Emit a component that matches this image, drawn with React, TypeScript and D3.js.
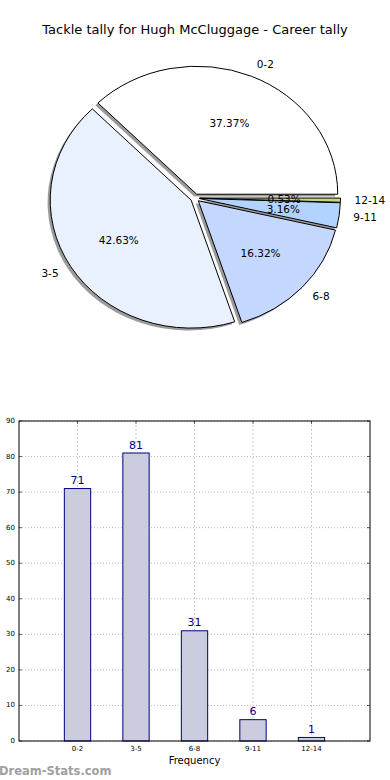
import React from "react";
import * as d3 from "d3";

const categories = ["0-2", "3-5", "6-8", "9-11", "12-14"];
const counts = [71, 81, 31, 6, 1];
const pieColors = ["#ffffff", "#eaf1fe", "#c3d7ff", "#b3d3ff", "#c2d882"];
const yTicks = [0, 10, 20, 30, 40, 50, 60, 70, 80, 90];
const title = "Tackle tally for Hugh McCluggage - Career tally";

const W = 390;
const H = 780;
const FONT = "'DejaVu Sans', sans-serif";

export default function App() {
  // ---------- pie ----------
  const cx = 195, cy = 198, rx = 141, ry = 128;
  const explode = 0.032;
  const total = d3.sum(counts);
  const pie = d3
    .pie<number>()
    .sort(null)
    .startAngle(Math.PI / 2)
    .endAngle(Math.PI / 2 - 2 * Math.PI);
  const arcs = pie(counts);
  const arcGen = d3.arc<d3.PieArcDatum<number>>().innerRadius(0).outerRadius(1);

  const pieEls = arcs.map((a, i) => {
    const m = (a.startAngle + a.endAngle) / 2;
    const ux = Math.sin(m);
    const uy = -Math.cos(m);
    const ox = cx + explode * rx * ux;
    const oy = cy + explode * ry * uy;
    return { a, i, ux, uy, ox, oy };
  });

  // ---------- bars ----------
  const bx0 = 19, bx1 = 370, by0 = 421, by1 = 741;
  const x = d3.scaleLinear().domain([-1, 5]).range([bx0, bx1]);
  const y = d3.scaleLinear().domain([0, 90]).range([by1, by0]);
  const bw = x(0.45) - x(0);

  return (
    <svg
      width={W}
      height={H}
      style={{ position: "absolute", left: 0, top: 0, background: "#fff" }}
      fontFamily={FONT}
    >
      <rect x={0} y={0} width={W} height={H} fill="#fff" />
      <text x={195} y={34} textAnchor="middle" fontSize={13} fill="#000">
        {title}
      </text>

      {/* shadows */}
      {pieEls.map(({ a, i, ox, oy }) => (
        <g key={"s" + i} transform={`translate(${ox - 2.6},${oy + 2.4}) scale(${rx},${ry})`}>
          <path d={arcGen(a) || ""} fill="#8a8a8a" opacity={0.85} />
        </g>
      ))}
      {/* wedges */}
      {pieEls.map(({ a, i, ox, oy }) => (
        <g key={"w" + i} transform={`translate(${ox},${oy}) scale(${rx},${ry})`}>
          <path
            d={arcGen(a) || ""}
            fill={pieColors[i]}
            stroke="#000"
            strokeWidth={1}
            vectorEffect="non-scaling-stroke"
            strokeLinejoin="round"
          />
        </g>
      ))}
      {/* labels */}
      {pieEls.map(({ a, i, ux, uy, ox, oy }) => {
        const lx = ox + 1.1 * rx * ux;
        const ly = oy + 1.1 * ry * uy;
        const px = ox + 0.6 * rx * ux;
        const py = oy + 0.6 * ry * uy;
        return (
          <g key={"l" + i}>
            <text
              x={lx}
              y={ly}
              textAnchor={ux > 0 ? "start" : "end"}
              dominantBaseline="central"
              fontSize={10.5}
              fill="#000"
            >
              {categories[i]}
            </text>
            <text
              x={px}
              y={py}
              textAnchor="middle"
              dominantBaseline="central"
              fontSize={10.5}
              fill="#000"
            >
              {((a.data / total) * 100).toFixed(2) + "%"}
            </text>
          </g>
        );
      })}

      {/* bar chart grid */}
      {yTicks.map((t) => (
        <g key={"gy" + t}>
          <line
            x1={bx0}
            x2={bx1}
            y1={y(t)}
            y2={y(t)}
            stroke="#bbbbbb"
            strokeDasharray="1,2"
          />
          <line x1={bx0} x2={bx0 + 3} y1={y(t)} y2={y(t)} stroke="#000" strokeWidth={0.6} />
          <line x1={bx1 - 3} x2={bx1} y1={y(t)} y2={y(t)} stroke="#000" strokeWidth={0.6} />
          <text
            x={bx0 - 4}
            y={y(t)}
            textAnchor="end"
            dominantBaseline="central"
            fontSize={7}
            fill="#000"
          >
            {t}
          </text>
        </g>
      ))}
      {categories.map((c, i) => (
        <g key={"gx" + c}>
          <line
            x1={x(i)}
            x2={x(i)}
            y1={by0}
            y2={by1}
            stroke="#bbbbbb"
            strokeDasharray="1.5,2.5"
          />
          <line x1={x(i)} x2={x(i)} y1={by1} y2={by1 - 3} stroke="#000" strokeWidth={0.6} />
          <line x1={x(i)} x2={x(i)} y1={by0} y2={by0 + 3} stroke="#000" strokeWidth={0.6} />
          <text x={x(i)} y={by1 + 10} textAnchor="middle" fontSize={7} fill="#000">
            {c}
          </text>
        </g>
      ))}
      {/* bars */}
      {counts.map((v, i) => (
        <g key={"b" + i}>
          <rect
            x={x(i) - bw / 2}
            y={y(v)}
            width={bw}
            height={y(0) - y(v)}
            fill="#ccccdf"
            stroke="#000080"
            strokeWidth={1}
          />
          <text x={x(i)} y={y(v) - 4.5} textAnchor="middle" fontSize={11} fill="#000080">
            {v}
          </text>
        </g>
      ))}
      <rect x={bx0} y={by0} width={bx1 - bx0} height={by1 - by0} fill="none" stroke="#000" strokeWidth={1} />
      <text x={(bx0 + bx1) / 2} y={764} textAnchor="middle" fontSize={10} fill="#000">
        Frequency
      </text>
      <text x={-1} y={775} fontSize={11.5} fill="#a0a0a0" fontWeight="bold">
        Dream-Stats.com
      </text>
    </svg>
  );
}
